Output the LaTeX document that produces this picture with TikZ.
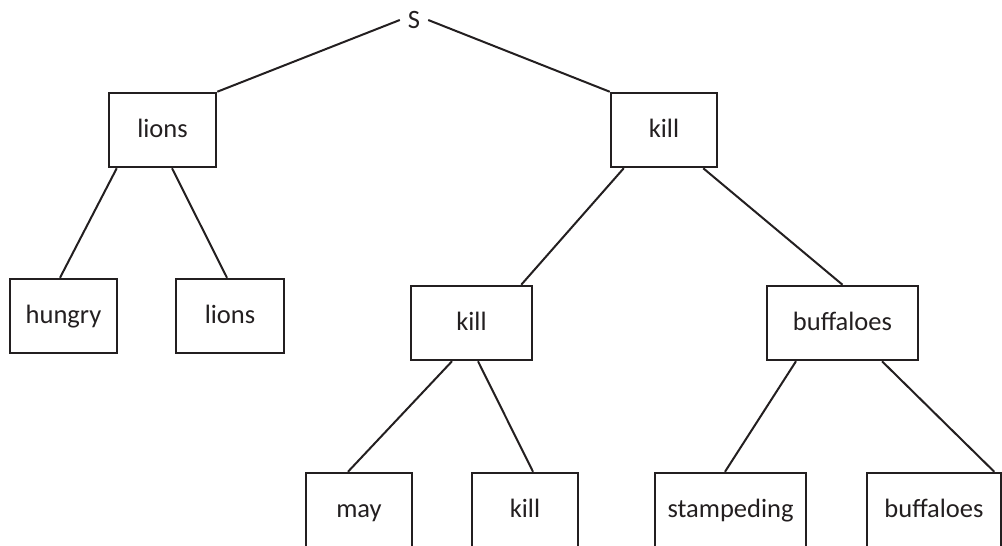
\documentclass[tikz,border=0pt]{standalone}
\usepackage{fontspec}
\setmainfont{Carlito}
\usetikzlibrary{calc}
\definecolor{ink}{HTML}{231F20}
\begin{document}
\begin{tikzpicture}[x=1pt,y=-1pt,
  box/.style={draw=ink,line width=2.5pt,text=ink,minimum height=74pt,inner sep=0pt,
    text height=18pt,text depth=4pt,
    font=\fontsize{26.5}{30}\selectfont},
  edge/.style={draw=ink,line width=2pt}]
\useasboundingbox (0,0) rectangle (1002,546);
\clip (0,0) rectangle (1002,546);
\node[text=ink,font=\fontsize{26.5}{30}\selectfont,minimum width=28pt,inner sep=0pt] (S) at (414,20) {S};
\node[box,minimum width=107pt] (lions) at (162.5,130) {lions};
\node[box,minimum width=106pt] (kill) at (664,130) {kill};
\node[box,minimum width=107pt] (hungry) at (63.5,316) {hungry};
\node[box,minimum width=108pt] (lions2) at (230,316) {lions};
\node[box,minimum width=121pt] (killmid) at (471.5,323) {kill};
\node[box,minimum width=151pt] (buff) at (842.5,323) {buffaloes};
\node[box,minimum width=106pt] (may) at (359,510) {may};
\node[box,minimum width=106pt] (kill3) at (525,510) {kill};
\node[box,minimum width=151pt] (stamp) at (730.5,510) {stampeding};
\node[box,minimum width=134pt] (buff2) at (934,510) {buffaloes};

\draw[edge] (S.west) -- (lions.north east);
\draw[edge] (S.east) -- (kill.north west);
\draw[edge] ($(lions.south west)+(9,0)$) -- ($(hungry.north)+(-3.5,0)$);
\draw[edge] ($(lions.south)+(9.5,0)$) -- ($(lions2.north)+(-3,0)$);
\draw[edge] ($(kill.south west)+(14,0)$) -- ($(killmid.north east)+(-12,0)$);
\draw[edge] ($(kill.south east)+(-15,0)$) -- (buff.north);
\draw[edge] ($(killmid.south)+(-19.5,0)$) -- ($(may.north)+(-11,0)$);
\draw[edge] ($(killmid.south)+(6.5,0)$) -- ($(kill3.north)+(8,0)$);
\draw[edge] ($(buff.south)+(-46.5,0)$) -- ($(stamp.north)+(-5.5,0)$);
\draw[edge] ($(buff.south)+(39.5,0)$) -- ($(buff2.north east)+(-8,0)$);
\end{tikzpicture}
\end{document}
